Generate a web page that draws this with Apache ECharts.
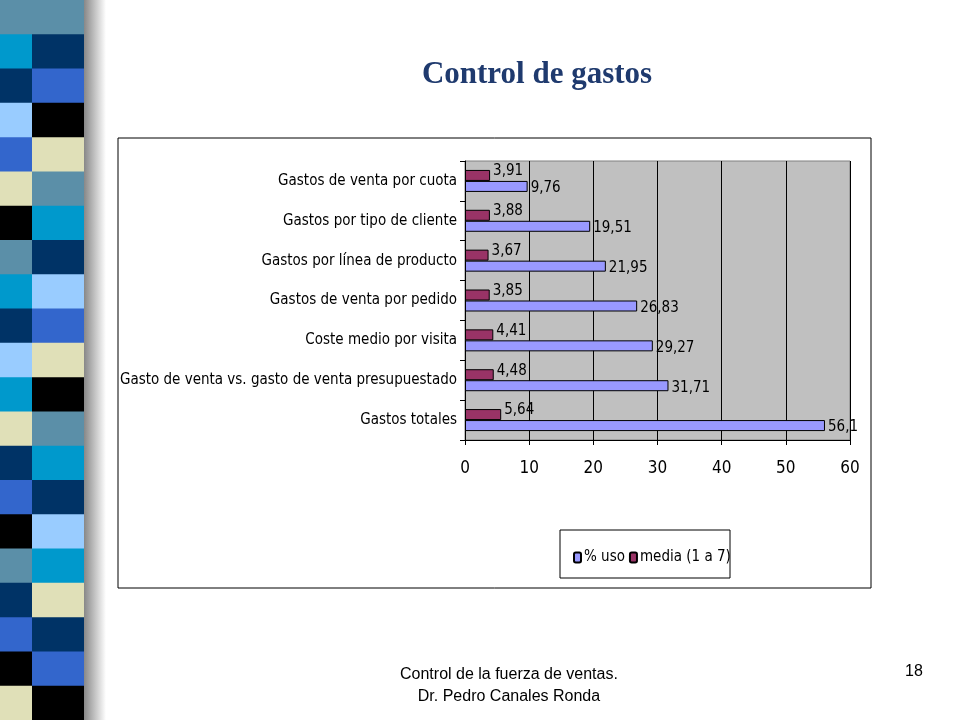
<!DOCTYPE html><html><head><meta charset="utf-8">
<script src="https://cdn.jsdelivr.net/npm/echarts@6/dist/echarts.min.js"></script>
<style>html,body{margin:0;padding:0;background:#fff}#c{width:960px;height:720px}</style></head>
<body><div id="c"></div><script>
const categories=["Gastos de venta por cuota","Gastos por tipo de cliente","Gastos por línea de producto","Gastos de venta por pedido","Coste medio por visita","Gasto de venta vs. gasto de venta presupuestado","Gastos totales"];
const uso=[9.76,19.51,21.95,26.83,29.27,31.71,56.1];
const media=[3.91,3.88,3.67,3.85,4.41,4.48,5.64];
const stripColors=["#5b8fa8","#003366","#3366cc","#000000","#e0e0b8","#5b8fa8","#0099cc","#003366","#99ccff","#3366cc","#e0e0b8","#000000","#5b8fa8","#0099cc","#003366","#99ccff","#0099cc","#e0e0b8","#003366","#3366cc","#000000"];
const F="'DejaVu Sans Condensed','Liberation Sans',Arial";
const fmt=v=>String(v.value).replace('.',',');
const strip=[];let y=0;const h=720/stripColors.length;
stripColors.forEach((c,i)=>{strip.push({type:'rect',shape:{x:32,y:y,width:52,height:h+1},style:{fill:c}});
 strip.push({type:'rect',shape:{x:0,y:y,width:32,height:h+1},style:{fill:stripColors[(i+5)%stripColors.length]}});y+=h;});
strip.push({type:'rect',shape:{x:84,y:0,width:22,height:720},style:{fill:{type:'linear',x:0,y:0,x2:1,y2:0,colorStops:[{offset:0,color:'#888'},{offset:1,color:'#fff'}]}}});
const ch=echarts.init(document.getElementById('c'));
ch.setOption({animation:false,
 title:{text:'Control de gastos',left:532,top:54,textAlign:'center',textStyle:{fontFamily:'Liberation Serif',fontSize:31,fontWeight:'bold',color:'#1f3a6e'}},
 graphic:[...strip,
  {type:'rect',shape:{x:118,y:138,width:753,height:450},style:{fill:'none',stroke:'#000',lineWidth:1}},
  {type:'rect',shape:{x:560,y:530,width:170,height:48},style:{fill:'#fff',stroke:'#000',lineWidth:1}},
  {type:'text',left:400,top:664,style:{text:'Control de la fuerza de ventas.\nDr. Pedro Canales Ronda',textAlign:'center',font:'16px Liberation Sans',fill:'#000',lineHeight:22}},
  {type:'text',left:905,top:664,style:{text:'18',font:'16px Liberation Sans',fill:'#000'}}],
 legend:{data:['% uso','media (1 a 7)'],left:568,top:545,itemWidth:7,itemHeight:10,itemGap:4,textStyle:{fontFamily:F,fontSize:15,color:'#000',padding:[0,0,0,-2]}},
 grid:{left:465,right:110,top:161,bottom:280,backgroundColor:'#c0c0c0',show:true,borderColor:'#808080'},
 xAxis:{type:'value',min:0,max:60,interval:10,axisLine:{show:true,lineStyle:{color:'#000'}},axisTick:{show:true,lineStyle:{color:'#000'}},
  splitLine:{lineStyle:{color:'#000'}},axisLabel:{fontFamily:F,fontSize:17,color:'#000',margin:20}},
 yAxis:{type:'category',inverse:true,data:categories,axisLine:{lineStyle:{color:'#000'}},axisTick:{show:true,lineStyle:{color:'#000'}},
  axisLabel:{fontFamily:F,fontSize:15,color:'#000'}},
 series:[
  {name:'media (1 a 7)',type:'bar',data:media,barWidth:11,barGap:'0%',itemStyle:{color:'#993366',borderColor:'#000',borderWidth:1},
   label:{show:true,position:'right',formatter:fmt,fontFamily:F,fontSize:15,color:'#000',offset:[-2,-4]}},
  {name:'% uso',type:'bar',data:uso,barWidth:11,itemStyle:{color:'#9999ff',borderColor:'#000',borderWidth:1},
   label:{show:true,position:'right',formatter:fmt,fontFamily:F,fontSize:15,color:'#000',offset:[-2,2]}}]
});
</script></body></html>
